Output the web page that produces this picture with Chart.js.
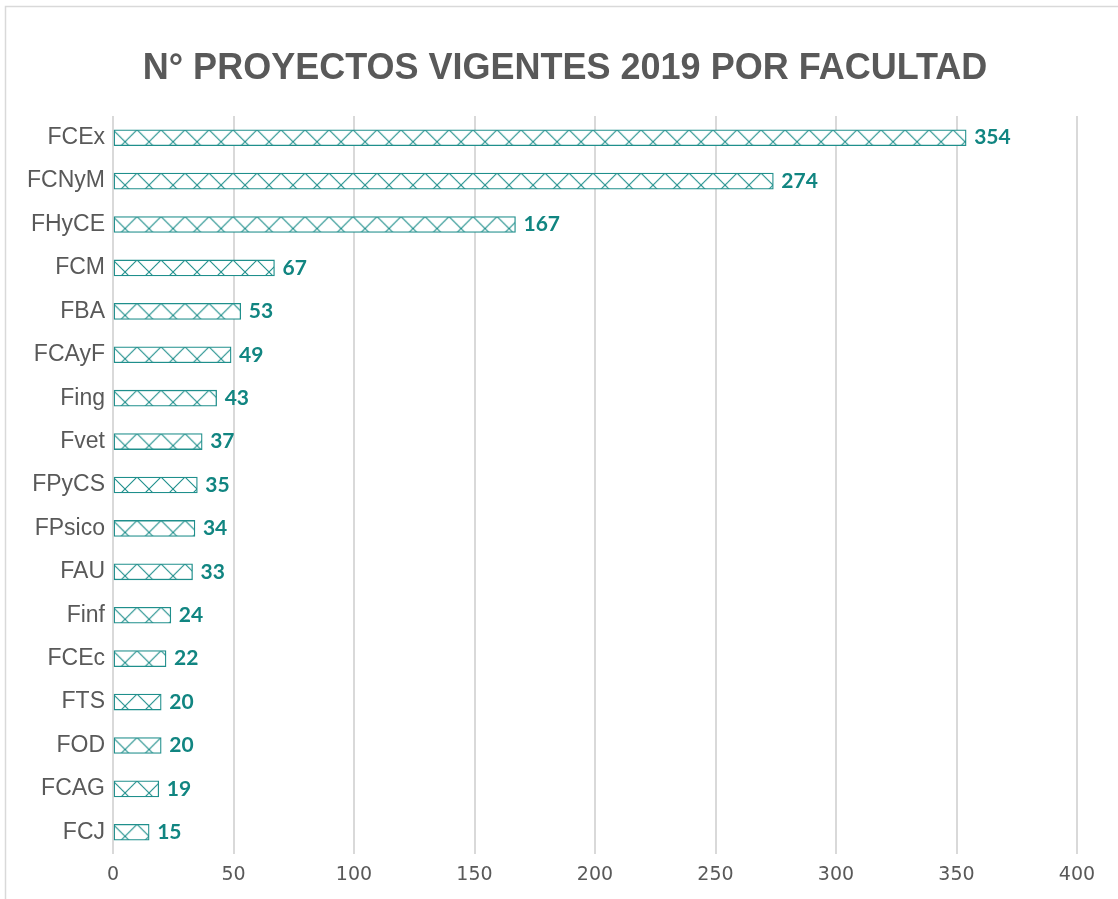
<!DOCTYPE html>
<html>
<head>
<meta charset="utf-8">
<script src="https://cdn.jsdelivr.net/npm/chart.js"></script>
<style>
  body { margin: 0; background: #fff; }
  #wrap { width: 1118px; height: 899px; }
</style>
</head>
<body>
<div id="wrap"><canvas id="myChart" width="1118" height="899"></canvas></div>
<script>
// data
const facultades = ["FCEx", "FCNyM", "FHyCE", "FCM", "FBA", "FCAyF", "Fing", "Fvet",
  "FPyCS", "FPsico", "FAU", "Finf", "FCEc", "FTS", "FOD", "FCAG", "FCJ"];
const proyectos = [354, 274, 167, 67, 53, 49, 43, 37, 35, 34, 33, 24, 22, 20, 20, 19, 15];
const xTicks = [0, 50, 100, 150, 200, 250, 300, 350, 400];
const titulo = "N° PROYECTOS VIGENTES 2019 POR FACULTAD";

const teal = "#1f8f8c";
const barH = 16;
const cell = 24;

// 45 degree cross hatch, anchored at each bar's top-left corner
function hatchTile() {
  const c = document.createElement("canvas");
  c.width = cell;
  c.height = cell;
  const g = c.getContext("2d");
  g.fillStyle = "#fff";
  g.fillRect(0, 0, cell, cell);
  g.strokeStyle = teal;
  g.lineWidth = 1.1;
  g.beginPath();
  g.moveTo(0, 0); g.lineTo(cell, cell);
  g.moveTo(0, cell); g.lineTo(cell, 0);
  g.stroke();
  return c;
}
const tile = hatchTile();

function barFill(ctx) {
  const chart = ctx.chart;
  const xs = chart.scales.x, ys = chart.scales.y;
  const pat = chart.ctx.createPattern(tile, "repeat");
  if (!xs || !ys || ctx.dataIndex === undefined) return pat;
  const x0 = xs.getPixelForValue(0);
  const y = ys.getPixelForValue(ctx.dataIndex);
  pat.setTransform(new DOMMatrix([1, 0, 0, 1, x0, y - barH / 2]));
  return pat;
}

const valueLabels = {
  id: "valueLabels",
  afterDatasetsDraw(chart) {
    const c = chart.ctx;
    const meta = chart.getDatasetMeta(0);
    c.save();
    c.font = "bold 21px Lato";
    c.fillStyle = "#118581";
    c.textBaseline = "middle";
    meta.data.forEach((bar, i) => {
      c.fillText(proyectos[i], bar.x + 8, bar.y);
    });
    c.restore();
  }
};

// frame + title (title centred on the whole frame, not the padded box)
const frame = {
  id: "frame",
  beforeDraw(chart) {
    const c = chart.ctx;
    c.save();
    c.strokeStyle = "#d9d9d9";
    c.lineWidth = 1.5;
    c.strokeRect(5.5, 6.5, 1130, 910);
    c.font = "bold 36px 'Liberation Sans'";
    c.fillStyle = "#595959";
    c.textAlign = "center";
    c.textBaseline = "middle";
    c.fillText(titulo, 565, 69);
    c.restore();
  }
};

new Chart(document.getElementById("myChart"), {
  type: "bar",
  data: {
    labels: facultades,
    datasets: [
      {
        label: "N° proyectos",
        data: proyectos,
        backgroundColor: barFill,
        borderColor: teal,
        borderWidth: 1.3,
        borderSkipped: false,
        barThickness: barH,
      },
    ],
  },
  options: {
    indexAxis: "y",
    responsive: false,
    animation: false,
    layout: { padding: { left: 0, right: 41, top: 116, bottom: 0 } },
    plugins: {
      legend: { display: false },
      tooltip: { enabled: false },
      title: { display: false },
    },
    scales: {
      x: {
        min: 0,
        max: 400,
        afterBuildTicks(scale) {
          scale.ticks = xTicks.map((v) => ({ value: v }));
        },
        afterFit(scale) {
          scale.height = 45;
        },
        grid: { color: "#d9d9d9", lineWidth: 2, drawTicks: false },
        border: { display: false },
        ticks: {
          color: "#595959",
          padding: 10,
          font: { family: "DejaVu Sans", size: 19 },
        },
      },
      y: {
        afterFit(scale) {
          scale.width = 113;
        },
        grid: { display: false, drawTicks: false },
        border: { display: false },
        ticks: {
          color: "#595959",
          padding: 8,
          font: { family: "Liberation Sans", size: 23 },
        },
      },
    },
  },
  plugins: [frame, valueLabels],
});
</script>
</body>
</html>
